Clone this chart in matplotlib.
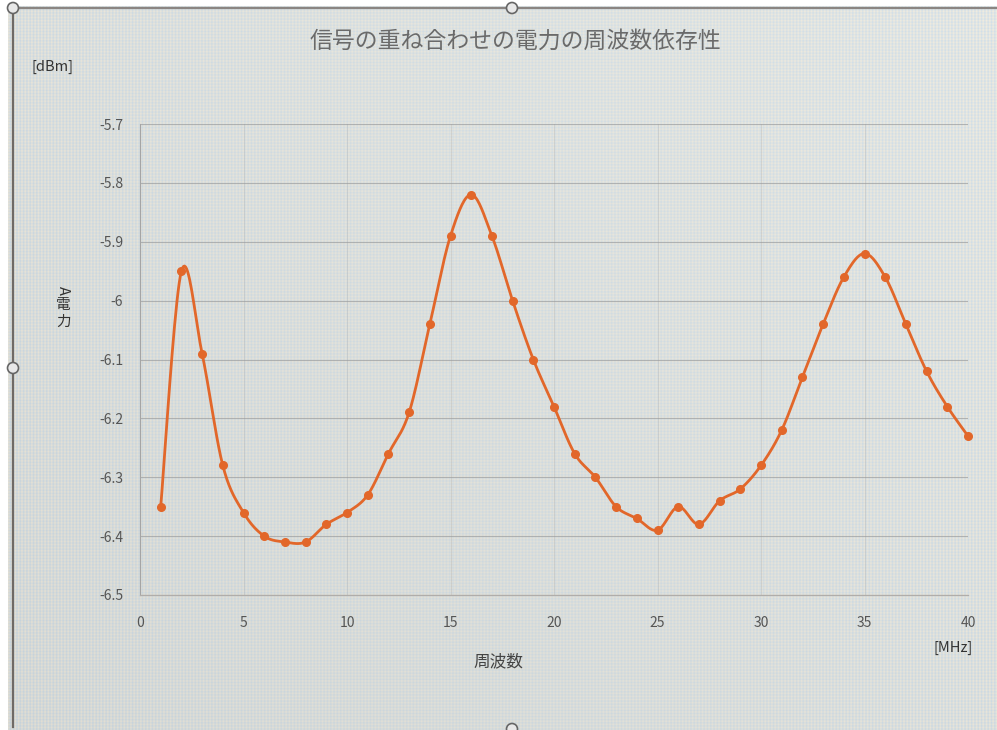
import numpy as np
import matplotlib
matplotlib.use("Agg")
import matplotlib.pyplot as plt
from matplotlib.lines import Line2D
from matplotlib.patches import Circle

plt.rcParams['font.family'] = ['Noto Sans CJK JP', 'DejaVu Sans']

# Frequency [MHz] and measured power [dBm]
freq_mhz = list(range(1, 41))
power_dbm = [-6.35, -5.95, -6.09, -6.28, -6.36, -6.40, -6.41, -6.41, -6.38, -6.36,
             -6.33, -6.26, -6.19, -6.04, -5.89, -5.82, -5.89, -6.00, -6.10, -6.18,
             -6.26, -6.30, -6.35, -6.37, -6.39, -6.35, -6.38, -6.34, -6.32, -6.28,
             -6.22, -6.13, -6.04, -5.96, -5.92, -5.96, -6.04, -6.12, -6.18, -6.23]
y_ticks = [-5.7, -5.8, -5.9, -6.0, -6.1, -6.2, -6.3, -6.4, -6.5]
y_tick_labels = ['-5.7', '-5.8', '-5.9', '-6', '-6.1', '-6.2', '-6.3', '-6.4', '-6.5']
x_ticks = [0, 5, 10, 15, 20, 25, 30, 35, 40]

title = '信号の重ね合わせの電力の周波数依存性'
x_label = '周波数'
x_unit = '[MHz]'
y_unit = '[dBm]'

W, H = 997, 730
fig = plt.figure(figsize=(W / 100, H / 100), dpi=100, facecolor='white')


def smooth_curve(x, y, steps=20):
    """Catmull-Rom smoothing through every point (spreadsheet-style smoothed line)."""
    x = np.asarray(x, float)
    y = np.asarray(y, float)
    px = np.concatenate([[x[0]], x, [x[-1]]])
    py = np.concatenate([[y[0]], y, [y[-1]]])
    xs, ys = [], []
    t = np.linspace(0, 1, steps, endpoint=False)
    for i in range(1, len(px) - 2):
        p0x, p1x, p2x, p3x = px[i - 1], px[i], px[i + 1], px[i + 2]
        p0y, p1y, p2y, p3y = py[i - 1], py[i], py[i + 1], py[i + 2]
        b1x, b1y = p1x + (p2x - p0x) / 6, p1y + (p2y - p0y) / 6
        b2x, b2y = p2x - (p3x - p1x) / 6, p2y - (p3y - p1y) / 6
        xs.append((1 - t) ** 3 * p1x + 3 * (1 - t) ** 2 * t * b1x + 3 * (1 - t) * t ** 2 * b2x + t ** 3 * p2x)
        ys.append((1 - t) ** 3 * p1y + 3 * (1 - t) ** 2 * t * b1y + 3 * (1 - t) * t ** 2 * b2y + t ** 3 * p2y)
    xs.append([x[-1]])
    ys.append([y[-1]])
    return np.concatenate(xs), np.concatenate(ys)


# Screen-photo backdrop with fine striped texture
cols = np.arange(W)
rows = np.arange(H)
stripe = 0.5 + 0.5 * np.cos(2 * np.pi * cols / 3.3)
hstripe = 0.5 + 0.5 * np.cos(2 * np.pi * rows / 3.1)
blue = np.array([208, 222, 232]) / 255.0
cream = np.array([240, 235, 222]) / 255.0
mix = 0.65 * stripe[None, :] + 0.35 * hstripe[:, None]
tex = cream[None, None, :] * (1 - mix[..., None]) + blue[None, None, :] * mix[..., None]
shade = 0.975 + 0.03 * (cols[None, :] / W) - 0.03 * (rows[:, None] / H)
tex = np.clip(tex * shade[..., None], 0, 1)
tex[:6, :, :] = 1.0
tex[:, :8, :] = 1.0

bg = fig.add_axes([0, 0, 1, 1], zorder=0)
bg.imshow(tex, extent=[0, W, H, 0], aspect='auto', interpolation='bilinear')
bg.set_xlim(0, W)
bg.set_ylim(H, 0)
bg.axis('off')
# chart-frame border and selection handles
bg.add_line(Line2D([13, 13], [8, 727], color='#6f6a66', lw=1.6))
bg.add_line(Line2D([13, W], [8, 8], color='#8a8582', lw=1.6))
for cx, cy in [(13, 8), (512, 8), (13, 368), (512, 729)]:
    bg.add_patch(Circle((cx, cy), 5.5, facecolor='#e8e8e8', edgecolor='#666666', lw=1.2, zorder=3))

# Plot area
ax = fig.add_axes([140 / W, 1 - 595 / H, (968 - 140) / W, (595 - 124) / H], zorder=1)
ax.set_facecolor('none')
ax.set_xlim(0, 40)
ax.set_ylim(-6.5, -5.7)
ax.set_yticks(y_ticks)
ax.set_yticklabels(y_tick_labels)
ax.set_xticks(x_ticks)
ax.tick_params(axis='both', length=0, labelsize=10, colors='#555555')
ax.tick_params(axis='y', pad=12)
ax.tick_params(axis='x', pad=15)
for s in ['top', 'right']:
    ax.spines[s].set_visible(False)
ax.spines['left'].set_color('#a5a5a5')
ax.spines['left'].set_linewidth(0.8)
ax.spines['bottom'].set_color('#b0adaa')
ax.spines['bottom'].set_linewidth(0.9)
ax.grid(axis='y', color='#9a9a9a', lw=0.8, alpha=0.65)
ax.grid(axis='x', color='#a8a8a8', lw=0.7, alpha=0.3)
ax.set_axisbelow(True)

sx, sy = smooth_curve(freq_mhz, power_dbm)
line_color = '#e2672a'
ax.plot(sx, sy, color=line_color, lw=2.0, solid_capstyle='round', zorder=3, clip_on=False)
ax.plot(freq_mhz, power_dbm, 'o', color=line_color, ms=5.5, mec=line_color, zorder=4, clip_on=False)

# Titles and labels
fig.text(515 / W, 1 - 41 / H, title, ha='center', va='center', fontsize=16.5, color='#6a6a6a')
fig.text(52 / W, 1 - 67 / H, y_unit, ha='center', va='center', fontsize=10.5, color='#333333')
fig.text(498 / W, 1 - 662 / H, x_label, ha='center', va='center', fontsize=12, color='#444444')
fig.text(953 / W, 1 - 648 / H, x_unit, ha='center', va='center', fontsize=10.5, color='#333333')
# vertical axis title: Latin letter turned, kanji upright
fig.text(63 / W, 1 - 290 / H, 'A', ha='center', va='center', fontsize=10.5, rotation=-90, color='#333333')
fig.text(63 / W, 1 - 305 / H, '電', ha='center', va='center', fontsize=10.5, color='#333333')
fig.text(64 / W, 1 - 322 / H, '力', ha='center', va='center', fontsize=10.5, color='#333333')

fig.savefig('out.png', dpi=100, facecolor='white')
